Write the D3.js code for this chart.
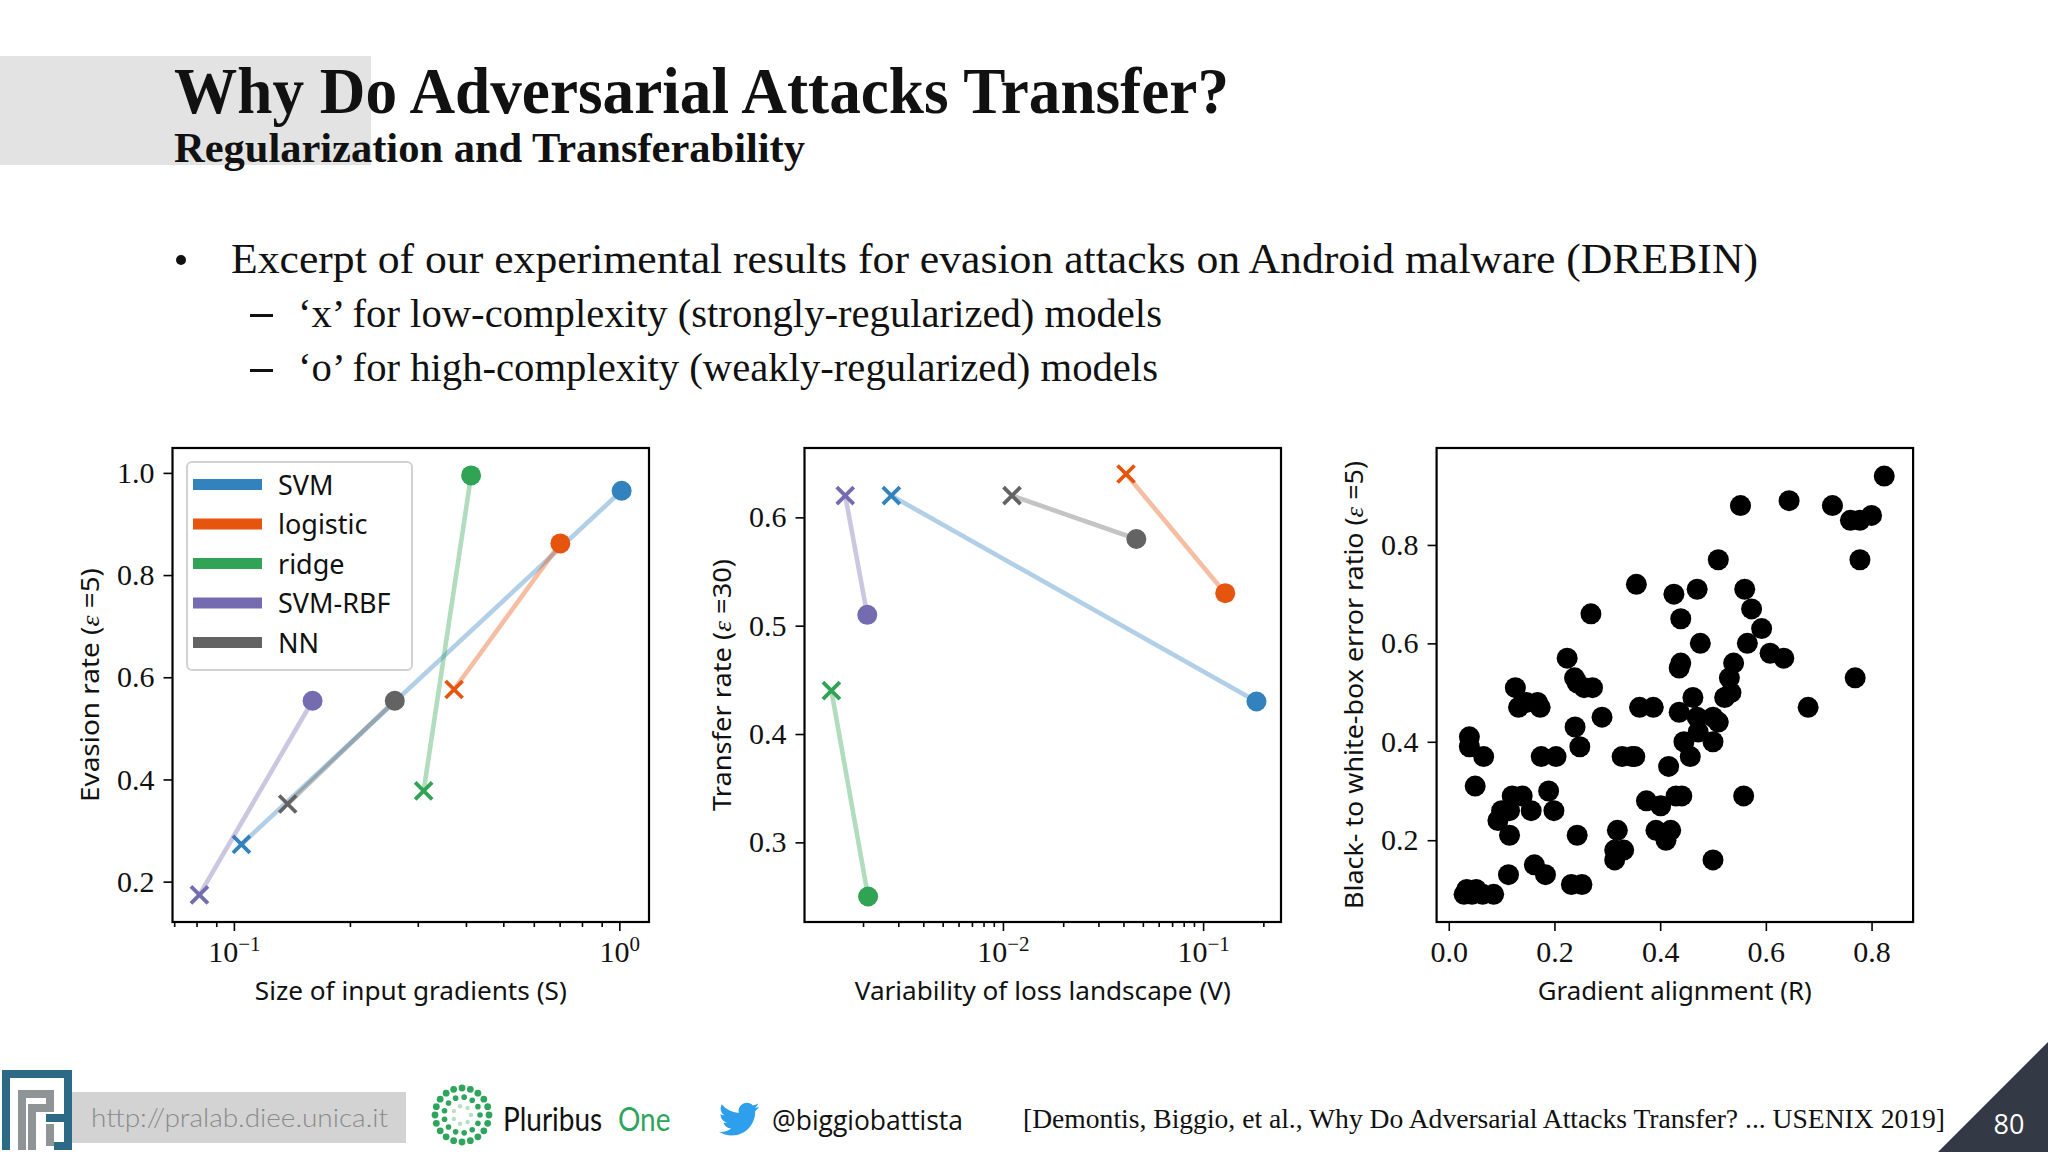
<!DOCTYPE html>
<html lang="en">
<head>
  <meta charset="UTF-8">
  <title>Why Do Adversarial Attacks Transfer?</title>
  <script src="https://d3js.org/d3.v7.min.js"></script>
  <style>
    html, body { margin: 0; padding: 0; background: #fff; }
    svg { display: block; }
    .tick text { font-family: "Liberation Serif", serif; font-size: 30px; fill: #111; }
    .tick line { stroke: #000; stroke-width: 1.6px; }
    .label { font-family: "Noto Sans", sans-serif; font-size: 26px; fill: #111; }
    .slide { font-family: "Liberation Serif", serif; fill: #111; }
  </style>
</head>
<body>
<svg id="slide" width="2048" height="1152"></svg>

<script>
  // Panel 1 and 2 models, low = 'x' marker, high = 'o' marker
  const models = ["SVM", "logistic", "ridge", "SVM-RBF", "NN"];
  const sizeLow = [0.1046, 0.3726, 0.3107, 0.0814, 0.1379];
  const sizeHigh = [1.014, 0.703, 0.4125, 0.160, 0.2615];
  const evasionLow = [0.273, 0.576, 0.3775, 0.174, 0.352];
  const evasionHigh = [0.965, 0.862, 0.995, 0.554, 0.554];
  const variabilityLow = [0.00277, 0.0412, 0.00139, 0.00163, 0.0111];
  const variabilityHigh = [0.1848, 0.129, 0.00212, 0.0021, 0.0464];
  const transferLow = [0.62, 0.64, 0.44, 0.62, 0.62];
  const transferHigh = [0.43, 0.53, 0.25, 0.51, 0.58];

  // Panel 3 scatter
  const alignment = [0.824, 0.644, 0.552, 0.726, 0.76, 0.778, 0.80, 0.778, 0.51, 0.355, 0.426, 0.47, 0.56, 0.573,
    0.269, 0.439, 0.592, 0.476, 0.565, 0.608, 0.634, 0.224, 0.439, 0.539, 0.436, 0.769, 0.531, 0.238, 0.243,
    0.256, 0.272, 0.126, 0.534, 0.522, 0.462, 0.132, 0.361, 0.387, 0.68, 0.147, 0.168, 0.173, 0.436, 0.29,
    0.47, 0.50, 0.51, 0.239, 0.472, 0.039, 0.039, 0.248, 0.445, 0.50, 0.066, 0.175, 0.203, 0.328, 0.347, 0.352,
    0.457, 0.416, 0.05, 0.189, 0.12, 0.139, 0.43, 0.441, 0.558, 0.374, 0.401, 0.10, 0.115, 0.156, 0.199, 0.093,
    0.115, 0.243, 0.319, 0.392, 0.42, 0.411, 0.331, 0.314, 0.314, 0.50, 0.162, 0.183, 0.113, 0.232, 0.252,
    0.029, 0.034, 0.052, 0.044, 0.064, 0.085];
  const errorRatio = [0.94, 0.89, 0.88, 0.88, 0.85, 0.85, 0.86, 0.77, 0.77, 0.72, 0.70, 0.71, 0.71, 0.67,
    0.66, 0.65, 0.63, 0.60, 0.60, 0.58, 0.57, 0.57, 0.56, 0.56, 0.55, 0.53, 0.53, 0.53, 0.52,
    0.51, 0.51, 0.51, 0.50, 0.49, 0.49, 0.47, 0.47, 0.47, 0.47, 0.48, 0.48, 0.47, 0.46, 0.45,
    0.45, 0.45, 0.44, 0.43, 0.42, 0.41, 0.39, 0.39, 0.40, 0.40, 0.37, 0.37, 0.37, 0.37, 0.37, 0.37,
    0.37, 0.35, 0.31, 0.30, 0.29, 0.29, 0.29, 0.29, 0.29, 0.28, 0.27, 0.26, 0.26, 0.26, 0.26, 0.24,
    0.21, 0.21, 0.22, 0.22, 0.22, 0.20, 0.18, 0.18, 0.16, 0.16, 0.15, 0.13, 0.13, 0.11, 0.11,
    0.09, 0.10, 0.10, 0.09, 0.09, 0.09];

  // Tick values
  const ticksEvasion = [0.2, 0.4, 0.6, 0.8, 1.0];
  const ticksTransfer = [0.3, 0.4, 0.5, 0.6];
  const ticksRatio = [0.2, 0.4, 0.6, 0.8];
  const ticksAlignment = [0.0, 0.2, 0.4, 0.6, 0.8];
  const ticksSize = [0.1, 1];
  const ticksVariability = [0.01, 0.1];
  const minorSize = [0.07, 0.08, 0.09, 0.2, 0.3, 0.4, 0.5, 0.6, 0.7, 0.8, 0.9];
  const minorVariability = [0.002, 0.003, 0.004, 0.005, 0.006, 0.007, 0.008, 0.009,
    0.02, 0.03, 0.04, 0.05, 0.06, 0.07, 0.08, 0.09, 0.2];

  const colors = ["#3182bd", "#e6550d", "#31a354", "#756bb1", "#636363"];

  const svg = d3.select("#slide");
  const frameTop = 448, frameBottom = 922, panelWidth = 476.5;

  // slide text helper, widths are forced so the substitute font lines up
  function slideText(x, y, size, weight, width, str) {
    svg.append("text").attr("class", "slide")
      .attr("x", x).attr("y", y)
      .attr("font-size", size).attr("font-weight", weight)
      .attr("textLength", width).attr("lengthAdjust", "spacingAndGlyphs")
      .text(str);
  }

  svg.append("rect").attr("x", 0).attr("y", 56).attr("width", 371).attr("height", 109).attr("fill", "#e3e3e3");
  slideText(174, 113, 66, "bold", 1055, "Why Do Adversarial Attacks Transfer?");
  slideText(174, 162, 42, "bold", 631, "Regularization and Transferability");
  svg.append("circle").attr("cx", 181).attr("cy", 260).attr("r", 5).attr("fill", "#111");
  slideText(231, 273, 42, "normal", 1527, "Excerpt of our experimental results for evasion attacks on Android malware (DREBIN)");
  svg.append("rect").attr("x", 250).attr("y", 314).attr("width", 23).attr("height", 3).attr("fill", "#111");
  slideText(298, 327, 39, "normal", 864, "\u2018x\u2019 for low-complexity (strongly-regularized) models");
  svg.append("rect").attr("x", 250).attr("y", 369).attr("width", 23).attr("height", 3).attr("fill", "#111");
  slideText(298, 381, 39, "normal", 860, "\u2018o\u2019 for high-complexity (weakly-regularized) models");

  // log axis labels, 10 with a raised exponent
  function powerLabel(sel) {
    sel.each(function(d) {
      const exp = Math.round(Math.log10(d));
      const t = d3.select(this).text("10");
      t.append("tspan").attr("dy", -11).attr("font-size", 21)
        .text(String(exp).replace("-", "\u2212"));
    });
  }

  function drawAxes(g, x, y, xTicks, yTicks, minor, xLabel, yLabel, xWidth, yWidth, labelX) {
    const xAxis = d3.axisBottom(x).tickValues(xTicks).tickSize(9).tickPadding(10);
    if (minor) xAxis.tickFormat(() => "");
    else xAxis.tickFormat(d3.format(".1f"));
    const gx = g.append("g").attr("transform", "translate(0," + frameBottom + ")").call(xAxis);
    if (minor) {
      gx.selectAll(".tick text").call(powerLabel);
      g.append("g").attr("transform", "translate(0," + frameBottom + ")")
        .call(d3.axisBottom(x).tickValues(minor).tickSize(5).tickFormat(""));
    }
    g.append("g").attr("transform", "translate(" + x.range()[0] + ",0)")
      .call(d3.axisLeft(y).tickValues(yTicks).tickSize(9).tickPadding(9).tickFormat(d3.format(".1f")));
    g.selectAll(".domain").remove();

    g.append("text").attr("class", "label")
      .attr("x", (x.range()[0] + x.range()[1]) / 2).attr("y", 1000)
      .attr("text-anchor", "middle")
      .attr("textLength", xWidth).attr("lengthAdjust", "spacingAndGlyphs")
      .text(xLabel);

    const yl = g.append("text").attr("class", "label")
      .attr("transform", "translate(" + labelX + "," + (frameTop + frameBottom) / 2 + ") rotate(-90)")
      .attr("text-anchor", "middle")
      .attr("textLength", yWidth).attr("lengthAdjust", "spacingAndGlyphs");
    yl.append("tspan").text(yLabel[0]);
    yl.append("tspan").attr("font-family", "Liberation Serif").attr("font-style", "italic").text(yLabel[1]);
    yl.append("tspan").text(yLabel[2]);
  }

  function drawFrame(g, x) {
    g.append("rect")
      .attr("x", x.range()[0]).attr("y", frameTop)
      .attr("width", x.range()[1] - x.range()[0]).attr("height", frameBottom - frameTop)
      .attr("fill", "none").attr("stroke", "#000").attr("stroke-width", 2.2);
  }

  function drawPairs(g, x, y, xLow, xHigh, yLow, yHigh) {
    models.forEach(function(name, i) {
      g.append("line")
        .attr("x1", x(xLow[i])).attr("y1", y(yLow[i]))
        .attr("x2", x(xHigh[i])).attr("y2", y(yHigh[i]))
        .attr("stroke", colors[i]).attr("stroke-width", 4.6).attr("stroke-opacity", 0.38);
      g.append("path")
        .attr("transform", "translate(" + x(xLow[i]) + "," + y(yLow[i]) + ")")
        .attr("d", "M-8.5,-8.5L8.5,8.5M-8.5,8.5L8.5,-8.5")
        .attr("stroke", colors[i]).attr("stroke-width", 3.8).attr("fill", "none");
      g.append("circle")
        .attr("cx", x(xHigh[i])).attr("cy", y(yHigh[i])).attr("r", 10)
        .attr("fill", colors[i]);
    });
  }

  // Panel 1
  const g1 = svg.append("g");
  const x1 = d3.scaleLog().domain([0.0693, 1.194]).range([172.5, 172.5 + panelWidth]);
  const y1 = d3.scaleLinear().domain([0.121, 1.0487]).range([frameBottom, frameTop]);
  drawAxes(g1, x1, y1, ticksSize, ticksEvasion, minorSize, "Size of input gradients (S)",
    ["Evasion rate (", "\u03b5", " =5)"], 312, 234, 99);
  drawPairs(g1, x1, y1, sizeLow, sizeHigh, evasionLow, evasionHigh);
  drawFrame(g1, x1);

  // Legend sits over the marks
  const legend = g1.append("g");
  legend.append("rect").attr("x", 187).attr("y", 462).attr("width", 225).attr("height", 208).attr("rx", 5)
    .attr("fill", "#fff").attr("fill-opacity", 0.85).attr("stroke", "#d2d2d2").attr("stroke-width", 2);
  const legendRow = d3.scalePoint().domain(models).range([484.5, 642.5]);
  models.forEach(function(name, i) {
    legend.append("rect").attr("x", 193).attr("y", legendRow(name) - 5.5)
      .attr("width", 69).attr("height", 11).attr("fill", colors[i]);
    legend.append("text").attr("class", "label").attr("x", 278).attr("y", legendRow(name) + 10)
      .style("font-size", "27px")
      .text(name);
  });

  // Panel 2
  const g2 = svg.append("g");
  const x2 = d3.scaleLog().domain([0.00102, 0.245]).range([804.5, 804.5 + panelWidth]);
  const y2 = d3.scaleLinear().domain([0.2265, 0.664]).range([frameBottom, frameTop]);
  drawAxes(g2, x2, y2, ticksVariability, ticksTransfer, minorVariability, "Variability of loss landscape (V)",
    ["Transfer rate (", "\u03b5", " =30)"], 376, 252, 731);
  drawPairs(g2, x2, y2, variabilityLow, variabilityHigh, transferLow, transferHigh);
  drawFrame(g2, x2);

  // Panel 3
  const g3 = svg.append("g");
  const x3 = d3.scaleLinear().domain([-0.023, 0.8786]).range([1436.6, 1436.6 + panelWidth]);
  const y3 = d3.scaleLinear().domain([0.0338, 0.997]).range([frameBottom, frameTop]);
  drawAxes(g3, x3, y3, ticksAlignment, ticksRatio, null, "Gradient alignment (R)",
    ["Black- to white-box error ratio (", "\u03b5", " =5)"], 274, 448, 1363);
  g3.selectAll("circle.pt")
    .data(alignment)
    .join("circle")
    .attr("class", "pt")
    .attr("cx", d => x3(d))
    .attr("cy", (d, i) => y3(errorRatio[i]))
    .attr("r", 10.5)
    .attr("fill", "#000");
  drawFrame(g3, x3);

  // Footer
  svg.append("rect").attr("x", 72).attr("y", 1092).attr("width", 334).attr("height", 51).attr("fill", "#d3d3d3");
  svg.append("text").attr("x", 91).attr("y", 1127)
    .attr("font-family", "Lato").attr("font-weight", 300).attr("font-size", 25).attr("fill", "#8a8a8a")
    .attr("textLength", 297).attr("lengthAdjust", "spacingAndGlyphs")
    .text("http://pralab.diee.unica.it");

  // PRA lab logo, rough stripes
  const logo = svg.append("g").attr("fill", "none").attr("stroke-width", 8);
  logo.append("path").attr("stroke", "#8f9496")
    .attr("d", "M22,1150V1094H50V1108H32V1150M50,1124V1146");
  logo.append("path").attr("stroke", "#2c6a86")
    .attr("d", "M6,1150V1074H68V1118H46M68,1118V1146H54");

  // Pluribus One logo, rings of dots
  const dots = svg.append("g").attr("fill", "#2ea55c");
  [[27, 20, 3.4], [18, 13, 2.8], [9, 7, 2.2]].forEach(function(ring, k) {
    d3.range(ring[1]).forEach(function(j) {
      const a = 2 * Math.PI * j / ring[1];
      dots.append("circle")
        .attr("cx", 462 + ring[0] * Math.cos(a)).attr("cy", 1115 + ring[0] * Math.sin(a))
        .attr("r", ring[2]).attr("fill-opacity", k === 2 ? 0.35 : 1);
    });
  });
  svg.append("text").attr("transform", "translate(503,1131) scale(1,1.2)")
    .attr("font-family", "Lato").attr("font-size", 28).attr("fill", "#111")
    .text("Pluribus");
  svg.append("text").attr("transform", "translate(618,1131) scale(1,1.2)")
    .attr("font-family", "Lato").attr("font-size", 28).attr("fill", "#2ea55c")
    .text("One");

  // Twitter bird
  svg.append("path")
    .attr("transform", "translate(719,1099) scale(1.68)")
    .attr("fill", "#2d9fed")
    .attr("d", "M23.954 4.569c-.885.389-1.83.654-2.825.775 1.014-.611 1.794-1.574 2.163-2.723-.951.555-2.005.959-3.127 1.184-.896-.959-2.173-1.559-3.591-1.559-2.717 0-4.92 2.203-4.92 4.917 0 .39.045.765.127 1.124C7.691 8.094 4.066 6.13 1.64 3.161c-.427.722-.666 1.561-.666 2.475 0 1.71.87 3.213 2.188 4.096-.807-.026-1.566-.248-2.228-.616v.061c0 2.385 1.693 4.374 3.946 4.827-.413.111-.849.171-1.296.171-.314 0-.615-.03-.916-.086.631 1.953 2.445 3.377 4.604 3.417-1.68 1.319-3.809 2.105-6.102 2.105-.39 0-.779-.023-1.17-.067 2.189 1.394 4.768 2.209 7.557 2.209 9.054 0 13.999-7.496 13.999-13.986 0-.209 0-.42-.015-.63.961-.689 1.8-1.56 2.46-2.548l-.047-.02z");
  svg.append("text").attr("x", 772).attr("y", 1130)
    .attr("font-family", "Open Sans").attr("font-size", 28).attr("fill", "#111")
    .attr("textLength", 191).attr("lengthAdjust", "spacingAndGlyphs").text("@biggiobattista");

  slideText(1023, 1128, 28, "normal", 922, "[Demontis, Biggio, et al., Why Do Adversarial Attacks Transfer? ...  USENIX 2019]");

  // Page number corner
  svg.append("path").attr("d", "M2048,1042V1152H1938Z").attr("fill", "#333a45");
  svg.append("text").attr("x", 2009).attr("y", 1134).attr("text-anchor", "middle")
    .attr("font-family", "Open Sans").attr("font-size", 27).attr("fill", "#fff").text("80");
</script>

</body>
</html>
